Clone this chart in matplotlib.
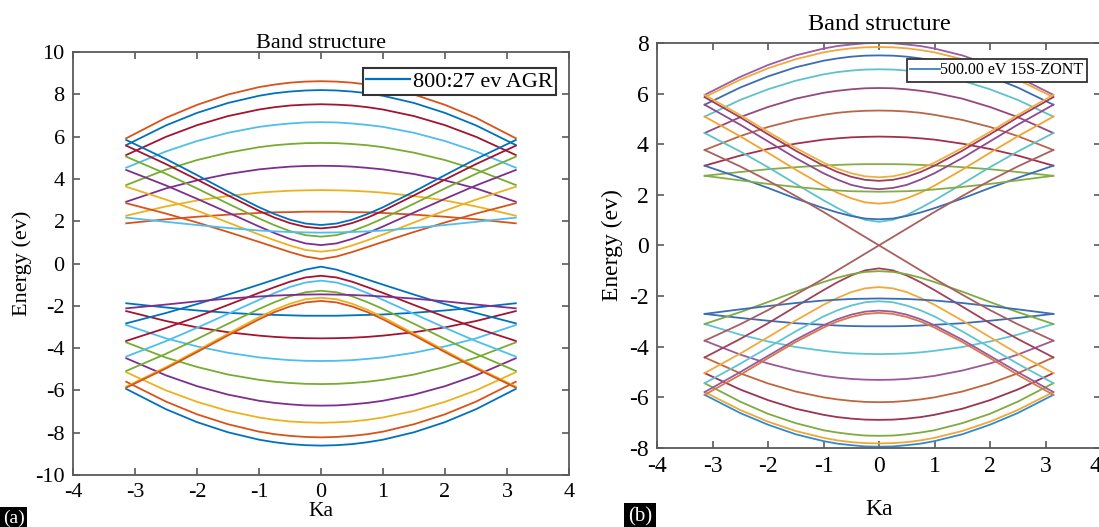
"""
能带结构对比图
(a) AGR 扶手椅型带, (b) 15S-ZONT
"""
import numpy as np
import matplotlib
matplotlib.use("Agg")
import matplotlib.pyplot as plt

plt.rcParams["font.family"] = ["Liberation Serif", "DejaVu Serif"]
plt.rcParams["axes.unicode_minus"] = False

# ── 数据（只取 Ka>=0 半轴，图形关于 Ka=0 对称）──────────────────
KA_HALF = [0.0, 0.25, 0.5, 0.75, 1.0, 1.5, 2.0, 2.5, 3.1416]

# (a) 导带：先是中心取极大的曲线，再是中心取极小的曲线
AGR_COND = [
    [8.62, 8.60, 8.55, 8.46, 8.34, 7.99, 7.50, 6.89, 5.92],
    [8.20, 8.18, 8.13, 8.05, 7.93, 7.59, 7.12, 6.53, 5.60],
    [7.53, 7.51, 7.47, 7.39, 7.28, 6.97, 6.54, 5.99, 5.13],
    [6.68, 6.67, 6.62, 6.55, 6.46, 6.18, 5.79, 5.30, 4.53],
    [5.70, 5.69, 5.65, 5.59, 5.50, 5.24, 4.89, 4.44, 3.71],
    [4.62, 4.61, 4.58, 4.52, 4.45, 4.23, 3.93, 3.55, 2.92],
    [3.47, 3.46, 3.44, 3.40, 3.35, 3.19, 2.98, 2.70, 2.26],
    [2.45, 2.45, 2.43, 2.42, 2.39, 2.31, 2.21, 2.09, 1.90],
    [0.21, 0.33, 0.54, 0.78, 1.02, 1.49, 1.94, 2.36, 2.85],
    [0.56, 0.64, 0.85, 1.10, 1.37, 1.94, 2.50, 3.02, 3.63],
    [0.87, 0.95, 1.16, 1.44, 1.75, 2.41, 3.06, 3.69, 4.42],
    [1.27, 1.34, 1.53, 1.81, 2.13, 2.83, 3.55, 4.24, 5.05],
    [1.66, 1.73, 1.91, 2.17, 2.49, 3.22, 3.97, 4.70, 5.57],
    [1.82, 1.89, 2.07, 2.34, 2.66, 3.40, 4.18, 4.94, 5.84],
    [1.46, 1.47, 1.49, 1.52, 1.56, 1.68, 1.82, 1.97, 2.17],
]
# (a) 价带
AGR_VAL = [
    [-8.61, -8.59, -8.54, -8.45, -8.33, -7.98, -7.50, -6.89, -5.93],
    [-8.22, -8.20, -8.15, -8.07, -7.95, -7.60, -7.13, -6.53, -5.59],
    [-7.53, -7.51, -7.47, -7.39, -7.28, -6.97, -6.54, -6.00, -5.14],
    [-6.72, -6.71, -6.66, -6.59, -6.49, -6.20, -5.80, -5.29, -4.48],
    [-5.70, -5.69, -5.65, -5.59, -5.50, -5.25, -4.89, -4.45, -3.73],
    [-4.61, -4.60, -4.57, -4.51, -4.44, -4.22, -3.92, -3.54, -2.91],
    [-3.54, -3.53, -3.51, -3.47, -3.41, -3.25, -3.02, -2.72, -2.25],
    [-2.47, -2.47, -2.45, -2.43, -2.41, -2.33, -2.22, -2.08, -1.88],
    [-0.15, -0.29, -0.52, -0.76, -1.00, -1.47, -1.92, -2.34, -2.83],
    [-0.58, -0.66, -0.86, -1.12, -1.39, -1.96, -2.52, -3.05, -3.66],
    [-0.81, -0.90, -1.11, -1.40, -1.72, -2.38, -3.04, -3.67, -4.40],
    [-1.29, -1.36, -1.55, -1.83, -2.15, -2.85, -3.57, -4.27, -5.08],
    [-1.62, -1.69, -1.90, -2.19, -2.54, -3.32, -4.12, -4.90, -5.82],
    [-1.77, -1.84, -2.03, -2.30, -2.64, -3.40, -4.19, -4.96, -5.87],
    [-1.46, -1.47, -1.49, -1.52, -1.56, -1.66, -1.79, -1.94, -2.12],
]

# (b) 导带
ZONT_COND = [
    [8.00, 7.99, 7.94, 7.88, 7.78, 7.51, 7.13, 6.66, 5.95],
    [7.84, 7.83, 7.79, 7.72, 7.63, 7.36, 7.00, 6.55, 5.86],
    [7.51, 7.50, 7.46, 7.39, 7.30, 7.04, 6.68, 6.24, 5.56],
    [6.96, 6.95, 6.91, 6.85, 6.76, 6.51, 6.17, 5.75, 5.09],
    [6.22, 6.21, 6.17, 6.11, 6.03, 5.80, 5.47, 5.07, 4.44],
    [5.33, 5.32, 5.29, 5.24, 5.16, 4.96, 4.68, 4.32, 3.77],
    [4.30, 4.29, 4.27, 4.23, 4.18, 4.02, 3.81, 3.55, 3.15],
    [3.21, 3.21, 3.20, 3.18, 3.16, 3.09, 3.01, 2.90, 2.75],
    [0.93, 1.01, 1.20, 1.48, 1.78, 2.43, 3.09, 3.71, 4.44],
    [1.03, 1.06, 1.16, 1.30, 1.47, 1.85, 2.27, 2.67, 3.15],
    [1.65, 1.70, 1.86, 2.08, 2.36, 2.99, 3.66, 4.31, 5.09],
    [2.12, 2.13, 2.14, 2.17, 2.21, 2.31, 2.43, 2.57, 2.75],
    [2.22, 2.27, 2.39, 2.60, 2.85, 3.45, 4.11, 4.77, 5.56],
    [2.55, 2.59, 2.71, 2.90, 3.15, 3.74, 4.39, 5.06, 5.86],
    [2.69, 2.73, 2.85, 3.03, 3.27, 3.85, 4.49, 5.15, 5.95],
    [0.00, 0.33, 0.66, 0.99, 1.32, 1.95, 2.56, 3.12, 3.77],
]
ZONT_COND_COLORS = ["#9b5ba5", "#f0a93a", "#3b6db3", "#5cc2cc", "#95487f",
                    "#b8664a", "#a1304f", "#86ad45", "#5cc2cc", "#3b6db3",
                    "#f2a431", "#86ad45", "#8e4a8e", "#a03a5e", "#f0b040",
                    "#a8605f"]
# (b) 价带
ZONT_VAL = [
    [-7.96, -7.95, -7.90, -7.84, -7.74, -7.47, -7.09, -6.63, -5.91],
    [-7.83, -7.82, -7.78, -7.71, -7.61, -7.34, -6.97, -6.51, -5.80],
    [-7.53, -7.52, -7.47, -7.40, -7.31, -7.03, -6.66, -6.18, -5.45],
    [-6.90, -6.89, -6.85, -6.79, -6.70, -6.46, -6.12, -5.70, -5.05],
    [-6.20, -6.19, -6.15, -6.09, -6.01, -5.78, -5.46, -5.06, -4.43],
    [-5.32, -5.31, -5.28, -5.23, -5.16, -4.95, -4.67, -4.32, -3.77],
    [-4.30, -4.29, -4.27, -4.23, -4.17, -4.02, -3.80, -3.53, -3.11],
    [-3.20, -3.20, -3.19, -3.17, -3.14, -3.08, -2.98, -2.87, -2.71],
    [-0.91, -0.99, -1.19, -1.46, -1.77, -2.42, -3.08, -3.70, -4.43],
    [-1.02, -1.05, -1.14, -1.28, -1.45, -1.83, -2.24, -2.64, -3.11],
    [-1.65, -1.70, -1.85, -2.08, -2.35, -2.97, -3.63, -4.28, -5.05],
    [-2.10, -2.11, -2.12, -2.15, -2.18, -2.28, -2.40, -2.53, -2.71],
    [-2.21, -2.25, -2.38, -2.57, -2.81, -3.40, -4.04, -4.68, -5.45],
    [-2.58, -2.62, -2.74, -2.92, -3.16, -3.73, -4.37, -5.01, -5.80],
    [-2.67, -2.71, -2.83, -3.01, -3.25, -3.82, -4.46, -5.12, -5.91],
    [0.00, -0.33, -0.66, -0.99, -1.32, -1.95, -2.56, -3.12, -3.77],
]
ZONT_VAL_COLORS = ["#2f8bd0", "#f0a830", "#80aa40", "#9c3450", "#c0663e",
                   "#9a5a9a", "#5ec4d2", "#3b6db3", "#a0405a", "#80aa40",
                   "#f2a93b", "#3b6db3", "#5ec4d2", "#9a5a9a", "#d9774a",
                   "#a8605f"]

MATLAB_COLORS = ["#0072BD", "#D95319", "#EDB120", "#7E2F8E",
                 "#77AC30", "#4DBEEE", "#A2142F"]

SPINE = "#5a5a5a"
W, H = 1099, 527


def mirror(vals):
    """半轴数据镜像成完整的 -pi..pi"""
    return list(vals[:0:-1]) + list(vals)


ka = [-k for k in KA_HALF[:0:-1]] + list(KA_HALF)


def style_axes(ax, fs):
    for s in ax.spines.values():
        s.set_color(SPINE)
        s.set_linewidth(1.3)
    ax.tick_params(direction="in", top=True, right=True, color=SPINE,
                   width=1.2, length=5, labelsize=fs, pad=6)


fig = plt.figure(figsize=(W / 100, H / 100), dpi=100)

# ══════════════════════════════════════════════════════════════
# (a)
# ══════════════════════════════════════════════════════════════
axa = fig.add_axes([73 / W, 1 - 475 / H, 496 / W, 423 / H])
bands_a = AGR_VAL + AGR_COND
rank = np.argsort(np.argsort([b[0] for b in bands_a]))
for b, r in zip(bands_a, rank):
    axa.plot(ka, mirror(b), color=MATLAB_COLORS[r % 7], lw=1.3)
axa.plot([], [], color="#0072BD", lw=1.6, label="800:27 ev AGR")

axa.set_xlim(-4, 4)
axa.set_ylim(-10, 10)
axa.set_xticks(range(-4, 5))
axa.set_yticks(range(-10, 11, 2))
style_axes(axa, 16)
axa.set_title("Band structure", fontsize=16, pad=3)
axa.set_xlabel("Ka", fontsize=15.5, labelpad=0)
axa.set_ylabel("Energy (ev)", fontsize=16, labelpad=2)
lga = axa.legend(loc="upper right", bbox_to_anchor=(0.973, 0.963),
                 fontsize=16, frameon=True, fancybox=False, framealpha=1,
                 handlelength=2.0, handletextpad=0.1, borderpad=0.15,
                 borderaxespad=0)
lga.get_frame().set_edgecolor("#333333")
lga.get_frame().set_linewidth(1.5)

# ══════════════════════════════════════════════════════════════
# (b)
# ══════════════════════════════════════════════════════════════
axb = fig.add_axes([657 / W, 1 - 447.7 / H, 444 / W, 404.7 / H])
for b, c in zip(ZONT_VAL, ZONT_VAL_COLORS):
    axb.plot(ka, mirror(b), color=c, lw=1.3)
for b, c in zip(ZONT_COND, ZONT_COND_COLORS):
    axb.plot(ka, mirror(b), color=c, lw=1.3)
axb.plot([], [], color="#3b7fc4", lw=1.3, label="500.00 eV 15S-ZONT")

axb.set_xlim(-4, 4)
axb.set_ylim(-8, 8)
axb.set_xticks(range(-4, 5))
axb.set_yticks(range(-8, 9, 2))
style_axes(axb, 17)
axb.set_title("Band structure", fontsize=17.5, pad=9)
axb.set_xlabel("Ka", fontsize=17, labelpad=16)
axb.set_ylabel("Energy (ev)", fontsize=17, labelpad=4)
axb.get_xticklabels()[-1].set_horizontalalignment("right")
lgb = axb.legend(loc="upper right", bbox_to_anchor=(0.968, 0.960),
                 fontsize=11.5, frameon=True, fancybox=False, framealpha=1,
                 handlelength=1.9, handletextpad=0.0, borderpad=0.2,
                 borderaxespad=0)
lgb.get_frame().set_edgecolor("#333333")
lgb.get_frame().set_linewidth(1.3)

# 面板编号
fig.text(3 / W, 4 / H, "(a)", color="white", fontsize=14,
         bbox=dict(facecolor="black", edgecolor="none", pad=2))
fig.text(628 / W, 6 / H, "(b)", color="white", fontsize=15,
         bbox=dict(facecolor="black", edgecolor="none", pad=2.5))

fig.savefig("out.png", dpi=100)
